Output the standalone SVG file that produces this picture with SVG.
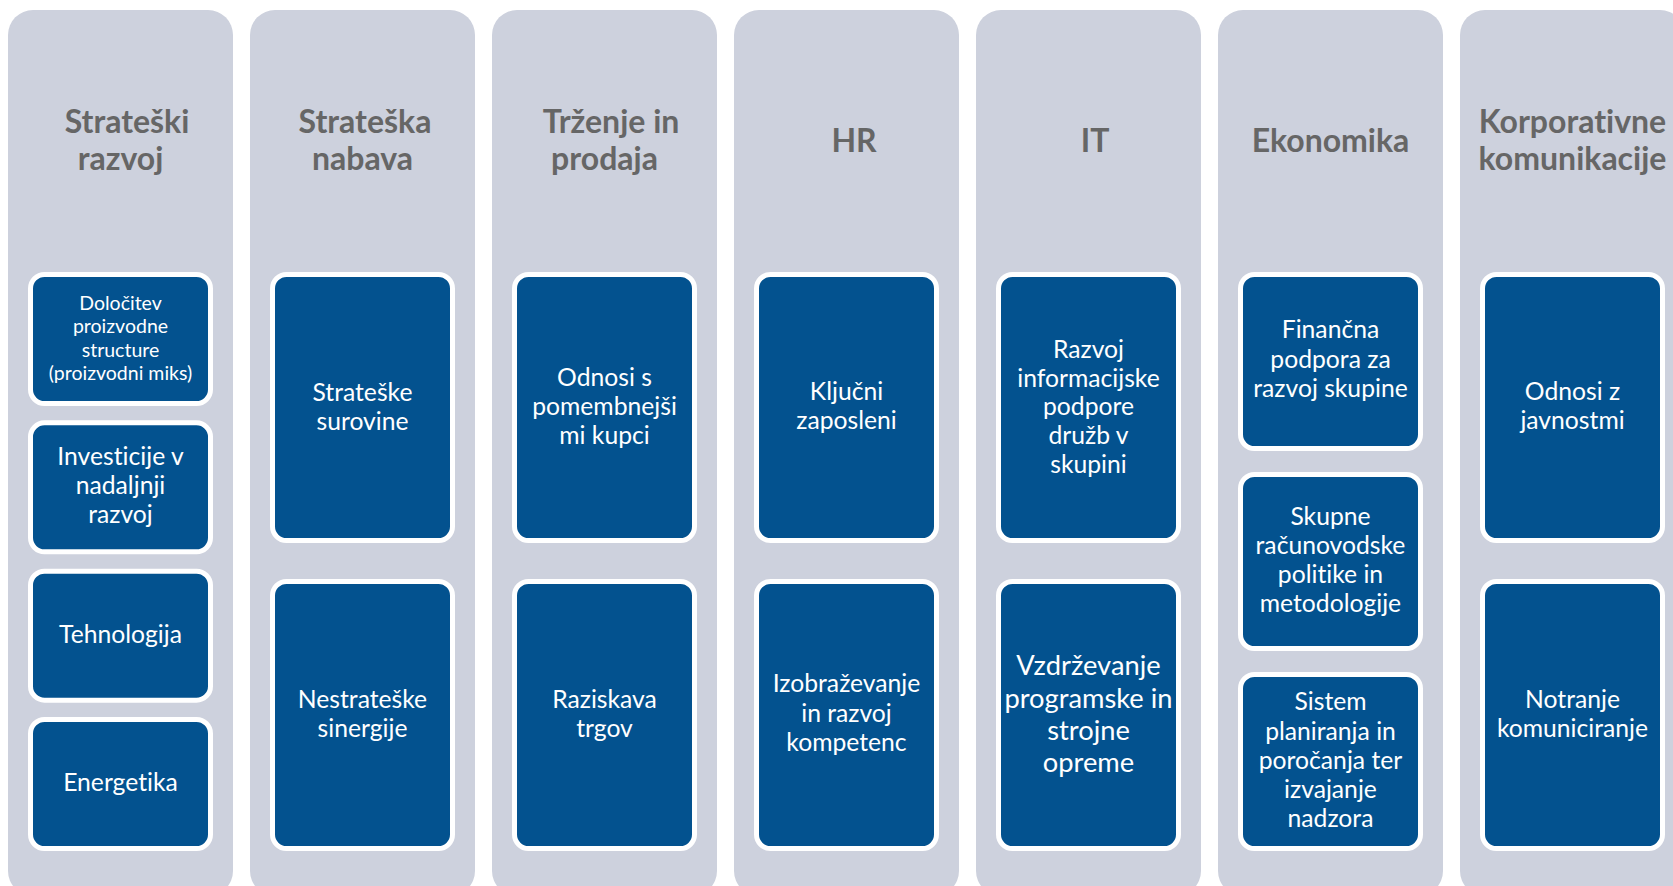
<svg xmlns="http://www.w3.org/2000/svg" width="1673" height="886" viewBox="0 0 1673 886">
<style>
.col{fill:#CDD1DD}
.box{fill:#03528F;stroke:#FFFFFF;stroke-width:5}
.h{font-family:Lato,"Liberation Sans",sans-serif;font-weight:bold;font-size:32px;fill:#666666;text-anchor:middle;font-variant-ligatures:none}
.t{font-family:Lato,"Liberation Sans",sans-serif;font-size:24.7px;fill:#FFFFFF;text-anchor:middle;font-variant-ligatures:none}
.s{font-size:19.5px}
.b{font-size:27.3px}
</style>
<rect width="1673" height="886" fill="#FFFFFF"/>
<g id="col1">
<rect class="col" x="8" y="10" width="225" height="886" rx="25"/>
<text class="h" x="127" y="133">Strateški</text><text class="h" x="120.5" y="170">razvoj</text>
</g>
<g id="col2">
<rect class="col" x="250" y="10" width="225" height="886" rx="25"/>
<text class="h" x="365" y="133">Strateška</text><text class="h" x="362.5" y="170">nabava</text>
</g>
<g id="col3">
<rect class="col" x="492" y="10" width="225" height="886" rx="25"/>
<text class="h" x="611" y="133">Trženje in</text><text class="h" x="604.5" y="170">prodaja</text>
</g>
<g id="col4">
<rect class="col" x="734" y="10" width="225" height="886" rx="25"/>
<text class="h" x="854" y="152">HR</text>
</g>
<g id="col5">
<rect class="col" x="976" y="10" width="225" height="886" rx="25"/>
<text class="h" x="1095" y="152">IT</text>
</g>
<g id="col6">
<rect class="col" x="1218" y="10" width="225" height="886" rx="25"/>
<text class="h" x="1330.5" y="152">Ekonomika</text>
</g>
<g id="col7">
<rect class="col" x="1460" y="10" width="225" height="886" rx="25"/>
<text class="h" x="1572.5" y="133">Korporativne</text><text class="h" x="1572.5" y="170">komunikacije</text>
</g>

<g id="b1a"><rect class="box" x="30.5" y="274.5" width="180" height="129" rx="14"/>
<text class="t s" x="120.5" y="310">Določitev</text><text class="t s" x="120.5" y="333.3">proizvodne</text><text class="t s" x="120.5" y="356.7">structure</text><text class="t s" x="120.5" y="380">(proizvodni miks)</text></g>
<g id="b1b"><rect class="box" x="30.5" y="422.8" width="180" height="129" rx="14"/>
<text class="t" x="120.5" y="465">Investicije v</text><text class="t" x="120.5" y="494">nadaljnji</text><text class="t" x="120.5" y="523">razvoj</text></g>
<g id="b1c"><rect class="box" x="30.5" y="571.2" width="180" height="129" rx="14"/>
<text class="t" x="120.5" y="643">Tehnologija</text></g>
<g id="b1d"><rect class="box" x="30.5" y="719.5" width="180" height="129" rx="14"/>
<text class="t" x="120.5" y="791">Energetika</text></g>

<g id="b2a"><rect class="box" x="272.5" y="274.5" width="180" height="266" rx="14"/>
<text class="t" x="362.5" y="401">Strateške</text><text class="t" x="362.5" y="430">surovine</text></g>
<g id="b2b"><rect class="box" x="272.5" y="581.5" width="180" height="267" rx="14"/>
<text class="t" x="362.5" y="708">Nestrateške</text><text class="t" x="362.5" y="737">sinergije</text></g>

<g id="b3a"><rect class="box" x="514.5" y="274.5" width="180" height="266" rx="14"/>
<text class="t" x="604.5" y="386">Odnosi s</text><text class="t" x="604.5" y="415">pomembnejši</text><text class="t" x="604.5" y="444">mi kupci</text></g>
<g id="b3b"><rect class="box" x="514.5" y="581.5" width="180" height="267" rx="14"/>
<text class="t" x="604.5" y="708">Raziskava</text><text class="t" x="604.5" y="737">trgov</text></g>

<g id="b4a"><rect class="box" x="756.5" y="274.5" width="180" height="266" rx="14"/>
<text class="t" x="846.5" y="400">Ključni</text><text class="t" x="846.5" y="429">zaposleni</text></g>
<g id="b4b"><rect class="box" x="756.5" y="581.5" width="180" height="267" rx="14"/>
<text class="t" x="846.5" y="692">Izobraževanje</text><text class="t" x="846.5" y="722">in razvoj</text><text class="t" x="846.5" y="751">kompetenc</text></g>

<g id="b5a"><rect class="box" x="998.5" y="274.5" width="180" height="266" rx="14"/>
<text class="t" x="1088.5" y="358">Razvoj</text><text class="t" x="1088.5" y="387">informacijske</text><text class="t" x="1088.5" y="415">podpore</text><text class="t" x="1088.5" y="444">družb v</text><text class="t" x="1088.5" y="473">skupini</text></g>
<g id="b5b"><rect class="box" x="998.5" y="581.5" width="180" height="267" rx="14"/>
<text class="t b" x="1088.5" y="675">Vzdrževanje</text><text class="t b" x="1088.5" y="708">programske in</text><text class="t b" x="1088.5" y="740">strojne</text><text class="t b" x="1088.5" y="772">opreme</text></g>

<g id="b6a"><rect class="box" x="1240.5" y="274.5" width="180" height="174" rx="14"/>
<text class="t" x="1330.5" y="338">Finančna</text><text class="t" x="1330.5" y="368">podpora za</text><text class="t" x="1330.5" y="397">razvoj skupine</text></g>
<g id="b6b"><rect class="box" x="1240.5" y="474.5" width="180" height="174" rx="14"/>
<text class="t" x="1330.5" y="525">Skupne</text><text class="t" x="1330.5" y="554">računovodske</text><text class="t" x="1330.5" y="583">politike in</text><text class="t" x="1330.5" y="612">metodologije</text></g>
<g id="b6c"><rect class="box" x="1240.5" y="674.5" width="180" height="174" rx="14"/>
<text class="t" x="1330.5" y="710">Sistem</text><text class="t" x="1330.5" y="740">planiranja in</text><text class="t" x="1330.5" y="769">poročanja ter</text><text class="t" x="1330.5" y="798">izvajanje</text><text class="t" x="1330.5" y="827">nadzora</text></g>

<g id="b7a"><rect class="box" x="1482.5" y="274.5" width="180" height="266" rx="14"/>
<text class="t" x="1572.5" y="400">Odnosi z</text><text class="t" x="1572.5" y="429">javnostmi</text></g>
<g id="b7b"><rect class="box" x="1482.5" y="581.5" width="180" height="267" rx="14"/>
<text class="t" x="1572.5" y="708">Notranje</text><text class="t" x="1572.5" y="737">komuniciranje</text></g>
<g id="connectors"></g>
</svg>
